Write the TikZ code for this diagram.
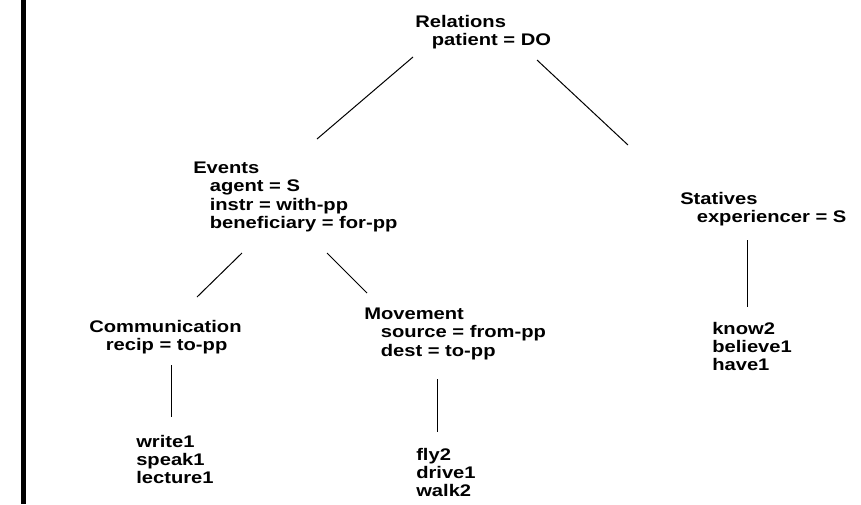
\documentclass[tikz,border=0pt]{standalone}
\usepackage{fontspec}
\setmainfont[FakeStretch=1.2]{Liberation Sans}
\usepackage{tikz}
\usetikzlibrary{positioning}

\newcommand{\ind}{\hspace*{12.4pt}}

\begin{document}
\begin{tikzpicture}[x=0.75pt, y=-0.75pt]
	% Define styles
	\tikzset{
		cls/.style={anchor=north west, inner sep=0pt, align=left, font=\fontsize{12.6}{13.6}\selectfont\bfseries},
		leaf/.style={cls},
		link/.style={draw, line width=0.75pt}
	}
	\useasboundingbox (0,0) rectangle (861,504);
	
	% Left bar
	\fill (21,0) rectangle (26,504);
	
	% Nodes
	\node[cls] (rel) at (415,15) {Relations\\\ind patient = DO};
	\node[cls] (ev) at (193,162) {Events\\\ind agent = S\\\ind instr = with-pp\\\ind beneficiary = for-pp};
	\node[cls] (stat) at (680,192) {Statives\\\ind experiencer = S};
	\node[cls] (comm) at (89,320) {Communication\\\ind recip = to-pp};
	\node[cls] (mov) at (364,308) {Movement\\\ind source = from-pp\\\ind dest = to-pp};
	
	\node[leaf] (wr) at (136,435) {write1\\speak1\\lecture1};
	\node[leaf] (fly) at (416,448) {fly2\\drive1\\walk2};
	\node[leaf] (know) at (712,322) {know2\\believe1\\have1};
	
	% Lines
	\draw[link] ([shift={(-2,42)}]rel.north west) -- ([shift={(124,-23)}]ev.north west);
	\draw[link] ([shift={(122,45)}]rel.north west) -- ([shift={(-52,-47)}]stat.north west);
	
	\draw[link] ([shift={(49,91)}]ev.north west) -- ([shift={(108,-23)}]comm.north west);
	\draw[link] ([shift={(134,91)}]ev.north west) -- ([shift={(3,-15)}]mov.north west);
	
	\draw[link] ([shift={(82,45)}]comm.north west) -- ([shift={(35,-18)}]wr.north west);
	\draw[link] ([shift={(73,71)}]mov.north west) -- ([shift={(21,-16)}]fly.north west);
	\draw[link] ([shift={(67,48)}]stat.north west) -- ([shift={(35,-15)}]know.north west);
	
\end{tikzpicture}
\end{document}
